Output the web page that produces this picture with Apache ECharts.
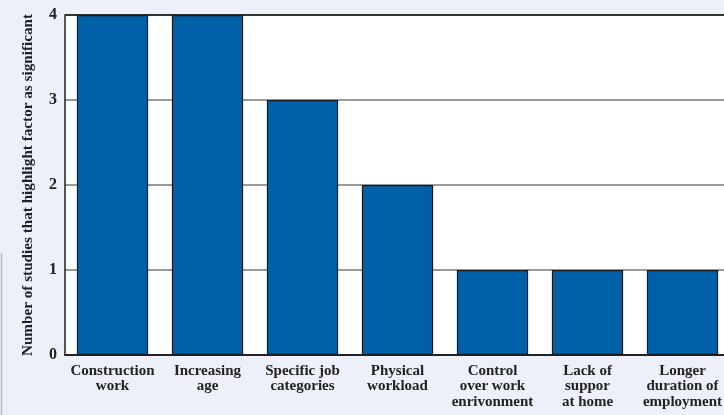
<!DOCTYPE html>
<html>
<head>
<meta charset="utf-8">
<script src="https://cdn.jsdelivr.net/npm/echarts@6/dist/echarts.min.js"></script>
<style>
  html, body { margin: 0; padding: 0; background: #edf0f8; }
  #chart { width: 724px; height: 415px; }
</style>
</head>
<body>
<div id="chart"></div>
<script>
// Factors and how many studies flagged each one as significant
const categories = [
  'Construction\nwork',
  'Increasing\nage',
  'Specific job\ncategories',
  'Physical\nworkload',
  'Control\nover work\nenrivonment',
  'Lack of\nsuppor\nat home',
  'Longer\nduration of\nemployment'
];
const studyCounts = [4, 4, 3, 2, 1, 1, 1];
const yTicks = [0, 1, 2, 3, 4];

const serif = '"Liberation Serif", "DejaVu Serif", serif';
const chart = echarts.init(document.getElementById('chart'));

chart.setOption({
  backgroundColor: '#edf0f8',
  animation: false,
  grid: {
    left: 65, right: -6, top: 15, bottom: 60,
    backgroundColor: '#ffffff', show: true, borderWidth: 0,
    containLabel: false, outerBoundsMode: 'none'
  },
  xAxis: {
    type: 'category',
    data: categories,
    axisLine: { lineStyle: { color: '#222', width: 2 } },
    axisTick: { show: false },
    axisLabel: {
      interval: 0,
      margin: 8,
      fontFamily: serif,
      fontWeight: 'bold',
      fontSize: 15,
      lineHeight: 15.5,
      color: '#222'
    }
  },
  yAxis: {
    type: 'value',
    min: yTicks[0],
    max: yTicks[yTicks.length - 1],
    interval: 1,
    name: 'Number of studies that highlight factor as significant',
    nameLocation: 'middle',
    nameGap: 29,
    nameTextStyle: { fontFamily: serif, fontWeight: 'bold', fontSize: 15.2, color: '#222' },
    axisLine: { show: true, lineStyle: { color: '#222', width: 1.5 } },
    axisTick: { show: false },
    axisLabel: {
      margin: 8,
      fontFamily: serif,
      fontWeight: 'bold',
      fontSize: 16,
      color: '#222'
    },
    splitLine: {
      show: true,
      lineStyle: { color: ['#222', '#999', '#999', '#999', '#333'], width: 2 }
    }
  },
  series: [{
    type: 'bar',
    data: studyCounts,
    barCategoryGap: '25%',
    itemStyle: { color: '#0060a8', borderColor: '#1a1a1a', borderWidth: 1.2 }
  }],
  graphic: [{
    type: 'line',
    shape: { x1: 1.5, y1: 253, x2: 1.5, y2: 415 },
    style: { stroke: '#b8bcc4', lineWidth: 1.5 },
    silent: true
  }]
});
</script>
</body>
</html>
